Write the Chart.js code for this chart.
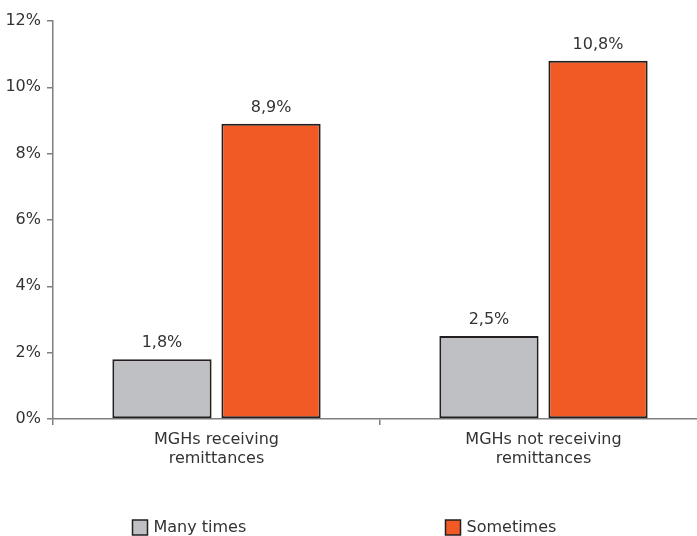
<!DOCTYPE html>
<html>
<head>
<meta charset="utf-8">
<script src="https://cdn.jsdelivr.net/npm/chart.js@4.4.1/dist/chart.umd.min.js"></script>
<style>
  html, body { margin: 0; padding: 0; overflow: hidden; background: #fff; }
  #wrap { width: 707px; height: 536px; position: relative; }
</style>
</head>
<body>
<div id="wrap"><canvas id="chart"></canvas></div>
<script>
let categories = [['MGHs receiving', 'remittances'], ['MGHs not receiving', 'remittances']];
let manyTimes = [1.8, 2.5];
let sometimes = [8.9, 10.8];
let seriesNames = ['Many times', 'Sometimes'];
let yTicks = [0, 2, 4, 6, 8, 10, 12];

let textColor = '#333333';
let axisColor = '#7f7f7f';
let fontFamily = '"DejaVu Sans", sans-serif';
let fontSize = 16;

/* writes the value above each bar, with a comma as decimal mark */
let valueLabels = {
    id: 'valueLabels',
    afterDatasetsDraw: function(chart) {
        let ctx = chart.ctx;
        ctx.save();
        ctx.font = fontSize + 'px ' + fontFamily;
        ctx.fillStyle = textColor;
        ctx.textAlign = 'center';
        ctx.textBaseline = 'alphabetic';
        chart.data.datasets.forEach(function(ds, i) {
            chart.getDatasetMeta(i).data.forEach(function(bar, j) {
                let txt = ds.data[j].toFixed(1).replace('.', ',') + '%';
                ctx.fillText(txt, bar.x, bar.y - 12);
            });
        });
        ctx.restore();
    }
};

/* legend spread out under the plot, one item under each group */
let spreadLegend = {
    id: 'spreadLegend',
    afterDraw: function(chart) {
        let ctx = chart.ctx;
        let xs = chart.scales.x;
        ctx.save();
        ctx.font = fontSize + 'px ' + fontFamily;
        ctx.textBaseline = 'middle';
        ctx.textAlign = 'left';
        chart.data.datasets.forEach(function(ds, i) {
            let left = xs.getPixelForValue(i) - 84 - i * 14;
            let top = 520;
            ctx.fillStyle = ds.backgroundColor;
            ctx.fillRect(left, top, 15, 15);
            ctx.strokeStyle = '#231f20';
            ctx.lineWidth = 1.5;
            ctx.strokeRect(left, top, 15, 15);
            ctx.fillStyle = textColor;
            ctx.fillText(ds.label, left + 21, top + 8);
        });
        ctx.restore();
    }
};

new Chart(document.getElementById('chart'), {
    type: 'bar',
    data: {
        labels: categories,
        datasets: [{
            label: seriesNames[0],
            data: manyTimes,
            backgroundColor: '#bfc0c4',
            borderColor: '#231f20',
            borderWidth: 2,
            borderSkipped: false,
            categoryPercentage: 0.667,
            barPercentage: 0.91
        }, {
            label: seriesNames[1],
            data: sometimes,
            backgroundColor: '#f15a24',
            borderColor: '#231f20',
            borderWidth: 2,
            borderSkipped: false,
            categoryPercentage: 0.667,
            barPercentage: 0.91
        }]
    },
    options: {
        responsive: true,
        maintainAspectRatio: false,
        animation: false,
        layout: { padding: { top: 21, right: 0, bottom: 0, left: 0 } },
        plugins: {
            legend: { display: false },
            tooltip: { enabled: false }
        },
        scales: {
            x: {
                grid: {
                    offset: true,
                    drawOnChartArea: false,
                    tickLength: 6,
                    color: axisColor,
                    lineWidth: 1.5
                },
                border: { color: axisColor, width: 1.5 },
                ticks: {
                    color: textColor,
                    font: { family: fontFamily, size: fontSize, lineHeight: 1.22 },
                    padding: 5,
                    maxRotation: 0
                },
                afterFit: function(scale) { scale.height = 117; }
            },
            y: {
                min: 0,
                max: 12,
                afterBuildTicks: function(scale) {
                    scale.ticks = yTicks.map(function(v) { return { value: v }; });
                },
                grid: {
                    drawOnChartArea: false,
                    tickLength: 6,
                    color: axisColor,
                    lineWidth: 1.5
                },
                border: { color: axisColor, width: 1.5 },
                ticks: {
                    color: textColor,
                    font: { family: fontFamily, size: fontSize },
                    padding: 6,
                    callback: function(v) { return v + '%'; }
                },
                afterFit: function(scale) { scale.width = 53; }
            }
        }
    },
    plugins: [valueLabels, spreadLegend]
});
</script>
</body>
</html>
